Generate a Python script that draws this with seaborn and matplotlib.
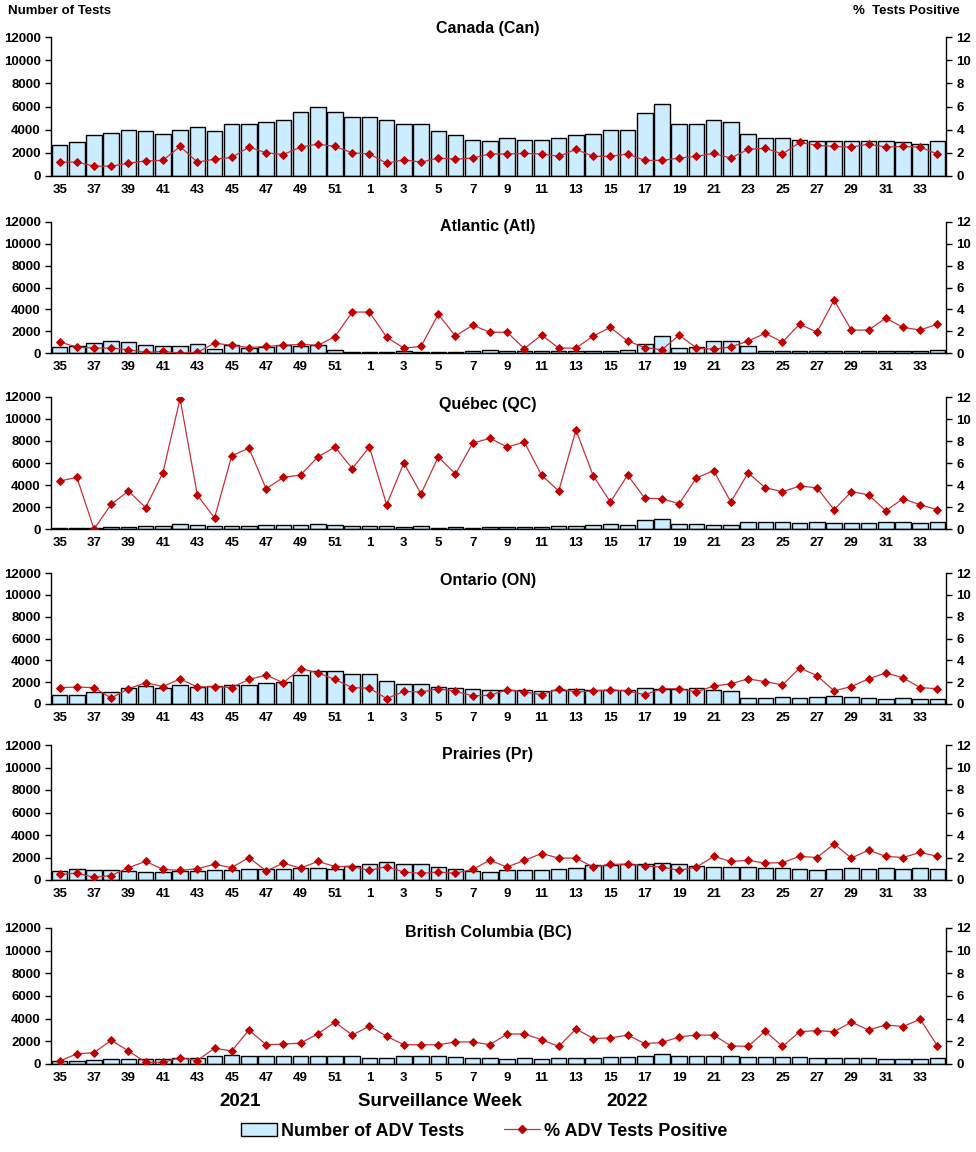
import numpy as np
import pandas as pd
import seaborn as sns
import matplotlib.pyplot as plt
from matplotlib.patches import Patch
from matplotlib.lines import Line2D

# Surveillance weeks: 35-52 of 2021 then 1-34 of 2022
weeks = [str(w) for w in list(range(35, 53)) + list(range(1, 35))]

regions = ['Canada (Can)', 'Atlantic (Atl)', 'Québec (QC)', 'Ontario (ON)',
           'Prairies (Pr)', 'British Columbia (BC)']

can_tests = [2650, 2900, 3500, 3750, 4000, 3850, 3600, 4000, 4200, 3900, 4450, 4450, 4700, 4800, 5550, 6000, 5500, 5100,
             5100, 4800, 4450, 4450, 3900, 3500, 3150, 3050, 3250, 3150, 3100, 3250, 3500, 3650, 3950, 3950, 5400, 6200,
             4500, 4500, 4800, 4700, 3650, 3250, 3250, 3100, 3050, 3050, 3050, 3000, 3000, 2900, 2800, 3000]
can_pct = [1.2, 1.2, 0.85, 0.85, 1.1, 1.3, 1.35, 2.55, 1.2, 1.45, 1.6, 2.5, 2.0, 1.85, 2.5, 2.75, 2.55, 2.0,
           1.9, 1.1, 1.4, 1.2, 1.55, 1.45, 1.55, 1.9, 1.9, 1.95, 1.9, 1.7, 2.3, 1.7, 1.7, 1.9, 1.35, 1.35,
           1.55, 1.7, 1.95, 1.55, 2.3, 2.4, 1.9, 2.9, 2.65, 2.55, 2.5, 2.75, 2.5, 2.55, 2.5, 1.9]

atl_tests = [550, 600, 900, 1100, 1000, 750, 600, 650, 850, 350, 700, 500, 550, 700, 650, 700, 250, 60,
             60, 60, 150, 80, 130, 130, 150, 250, 200, 150, 150, 150, 150, 150, 150, 250, 800, 1550,
             450, 550, 1100, 1100, 650, 200, 200, 200, 200, 200, 200, 200, 200, 200, 200, 250]
atl_pct = [1.0, 0.55, 0.45, 0.45, 0.3, 0.05, 0.15, 0.0, 0.05, 0.9, 0.7, 0.5, 0.6, 0.7, 0.8, 0.7, 1.5, 3.75,
           3.75, 1.45, 0.45, 0.6, 3.55, 1.55, 2.55, 1.9, 1.9, 0.4, 1.65, 0.45, 0.45, 1.55, 2.35, 1.1, 0.5, 0.3,
           1.65, 0.45, 0.35, 0.55, 1.1, 1.8, 1.0, 2.65, 1.9, 4.85, 2.1, 2.1, 3.2, 2.35, 2.1, 2.65]

qc_tests = [80, 80, 80, 200, 200, 250, 250, 450, 350, 250, 250, 250, 350, 350, 350, 450, 350, 250,
            250, 250, 200, 250, 100, 200, 100, 150, 150, 150, 150, 250, 250, 350, 450, 350, 850, 950,
            450, 450, 350, 350, 650, 650, 650, 550, 650, 550, 550, 550, 650, 650, 550, 650]
qc_pct = [4.35, 4.7, 0.0, 2.25, 3.45, 1.95, 5.1, 11.85, 3.1, 1.0, 6.65, 7.35, 3.65, 4.7, 4.9, 6.55, 7.45, 5.5,
          7.45, 2.2, 6.0, 3.2, 6.55, 5.0, 7.8, 8.25, 7.45, 7.9, 4.9, 3.45, 9.0, 4.85, 2.45, 4.9, 2.8, 2.75,
          2.3, 4.65, 5.3, 2.45, 5.1, 3.75, 3.4, 3.9, 3.75, 1.75, 3.4, 3.1, 1.65, 2.75, 2.2, 1.75]

on_tests = [850, 850, 1100, 1100, 1500, 1650, 1500, 1700, 1600, 1650, 1750, 1750, 1950, 2050, 2700, 3050, 3050, 2750,
            2750, 2150, 1850, 1850, 1550, 1500, 1350, 1300, 1300, 1300, 1200, 1300, 1400, 1300, 1250, 1250, 1500, 1400,
            1400, 1500, 1300, 1200, 550, 550, 650, 550, 650, 750, 650, 550, 450, 550, 450, 450]
on_pct = [1.5, 1.55, 1.5, 0.55, 1.4, 1.95, 1.6, 2.3, 1.55, 1.6, 1.5, 2.25, 2.65, 1.95, 3.25, 2.85, 2.25, 1.5,
          1.45, 0.5, 1.15, 1.1, 1.4, 1.15, 0.75, 0.8, 1.3, 1.1, 0.85, 1.4, 1.1, 1.2, 1.3, 1.2, 0.85, 1.4,
          1.4, 1.1, 1.65, 1.85, 2.3, 2.05, 1.75, 3.3, 2.6, 1.2, 1.6, 2.3, 2.85, 2.4, 1.5, 1.4]

pr_tests = [800, 950, 850, 850, 800, 700, 700, 800, 800, 850, 850, 950, 1000, 950, 1050, 1050, 950, 1250,
            1450, 1600, 1400, 1400, 1200, 950, 800, 700, 850, 850, 850, 950, 1050, 1300, 1350, 1400, 1400, 1500,
            1400, 1250, 1150, 1150, 1150, 1050, 1050, 950, 850, 950, 1050, 950, 1050, 950, 1050, 950]
pr_pct = [0.5, 0.6, 0.25, 0.4, 1.1, 1.65, 0.95, 0.85, 1.0, 1.4, 1.1, 2.0, 0.8, 1.5, 1.05, 1.65, 1.2, 1.2,
          0.85, 1.2, 0.7, 0.6, 0.7, 0.6, 0.95, 1.75, 1.15, 1.75, 2.35, 1.95, 1.95, 1.15, 1.4, 1.4, 1.25, 1.15,
          0.85, 1.15, 2.1, 1.65, 1.75, 1.5, 1.55, 2.1, 2.0, 3.2, 1.95, 2.65, 2.1, 2.0, 2.45, 2.1]

bc_tests = [300, 250, 350, 450, 450, 400, 400, 500, 500, 700, 800, 700, 700, 700, 700, 700, 700, 700,
            550, 550, 700, 700, 700, 600, 550, 550, 450, 550, 450, 550, 550, 550, 650, 650, 750, 850,
            750, 750, 750, 750, 650, 650, 650, 650, 550, 550, 550, 550, 450, 450, 450, 550]
bc_pct = [0.25, 0.9, 1.0, 2.1, 1.15, 0.15, 0.15, 0.55, 0.3, 1.4, 1.15, 3.0, 1.7, 1.75, 1.85, 2.65, 3.7, 2.55,
          3.35, 2.45, 1.7, 1.7, 1.7, 1.95, 1.95, 1.7, 2.65, 2.65, 2.15, 1.55, 3.1, 2.25, 2.3, 2.55, 1.8, 1.9,
          2.4, 2.55, 2.55, 1.6, 1.55, 2.9, 1.55, 2.85, 2.95, 2.85, 3.7, 3.0, 3.45, 3.3, 3.95, 1.6]

tests_all = [can_tests, atl_tests, qc_tests, on_tests, pr_tests, bc_tests]
pct_all = [can_pct, atl_pct, qc_pct, on_pct, pr_pct, bc_pct]

sns.set_style('white')
plt.rcParams['font.family'] = ['Liberation Sans', 'DejaVu Sans']
plt.rcParams['font.weight'] = 'bold'
for k in ('text.color', 'axes.labelcolor', 'xtick.color', 'ytick.color'):
    plt.rcParams[k] = 'black'

W, H = 976, 1152
fig = plt.figure(figsize=(W / 100, H / 100), dpi=100)

# panel top/bottom in pixels, title y in pixels
panels = [(37, 176, 28), (222, 353, 227), (397, 529, 405),
          (573, 704, 580), (745, 880, 755), (928, 1064, 932)]
left_px, right_px = 51, 946

bar_col = '#CCECFF'
line_col = '#C8303C'
mark_col = '#C00000'

for i, (top, bot, ty) in enumerate(panels):
    ax = fig.add_axes([left_px / W, 1 - bot / H, (right_px - left_px) / W, (bot - top) / H])
    df = pd.DataFrame({'week': weeks, 'tests': tests_all[i], 'pct': pct_all[i]})

    sns.barplot(data=df, x='week', y='tests', order=weeks, color=bar_col, saturation=1,
                edgecolor='black', linewidth=1, width=0.9, ax=ax)
    ax2 = ax.twinx()
    sns.pointplot(data=df, x='week', y='pct', order=weeks, color=line_col, markers='D',
                  errorbar=None, markersize=4.5, linewidth=0.9, ax=ax2)
    for ln in ax2.lines:
        ln.set_markerfacecolor(mark_col)
        ln.set_markeredgecolor(mark_col)

    ax.set_ylim(0, 12000)
    ax2.set_ylim(0, 12)
    ax.set_xlim(-0.5, len(weeks) - 0.5)
    ax2.set_xlim(-0.5, len(weeks) - 0.5)
    ax.set_yticks(range(0, 12001, 2000))
    ax2.set_yticks(range(0, 13, 2))
    ax.set_xlabel('')
    ax.set_ylabel('')
    ax2.set_ylabel('')
    ax2.set_xlabel('')

    pos = np.arange(0, len(weeks), 2)
    ax.set_xticks(pos)
    ax.set_xticklabels([weeks[p] for p in pos])
    ax.set_xticks(np.arange(-0.5, len(weeks), 1), minor=True)
    ax.tick_params(axis='x', which='major', length=0, pad=6, labelsize=9.5)
    ax.tick_params(axis='x', which='minor', length=4, width=1, direction='out', color='black')
    ax.tick_params(axis='y', length=4, width=1, direction='out', labelsize=9.5, color='black', left=True)
    ax2.tick_params(axis='y', length=4, width=1, direction='out', labelsize=9.5, color='black', right=True)

    for a in (ax, ax2):
        a.spines['top'].set_visible(False)
        for s in ('left', 'right', 'bottom'):
            a.spines[s].set_color('black')
            a.spines[s].set_linewidth(1)
    ax.spines['right'].set_visible(False)
    ax2.spines['left'].set_visible(False)
    ax2.spines['bottom'].set_visible(False)

    fig.text(488 / W, 1 - ty / H, regions[i], ha='center', va='center', fontsize=11.5, fontweight='bold')

fig.text(8 / W, 1 - 11 / H, 'Number of Tests', ha='left', va='center', fontsize=9.5, fontweight='bold')
fig.text(960 / W, 1 - 11 / H, '%  Tests Positive', ha='right', va='center', fontsize=9.5, fontweight='bold')

fig.text(240 / W, 1 - 1102 / H, '2021', ha='center', va='center', fontsize=13.5, fontweight='bold')
fig.text(440 / W, 1 - 1102 / H, 'Surveillance Week', ha='center', va='center', fontsize=13.5, fontweight='bold')
fig.text(627 / W, 1 - 1102 / H, '2022', ha='center', va='center', fontsize=13.5, fontweight='bold')

handles = [Patch(facecolor=bar_col, edgecolor='black', linewidth=1),
           Line2D([0], [0], color=line_col, marker='D', markersize=4.5, linewidth=0.9,
                  markerfacecolor=mark_col, markeredgecolor=mark_col)]
fig.legend(handles, ['Number of ADV Tests', '% ADV Tests Positive'], loc='center',
           bbox_to_anchor=(484 / W, 1 - 1131 / H), ncol=2, frameon=False,
           prop={'size': 13, 'weight': 'bold'}, handlelength=2.0, handletextpad=0.2, columnspacing=2.2)

plt.savefig('out.png', dpi=100)
